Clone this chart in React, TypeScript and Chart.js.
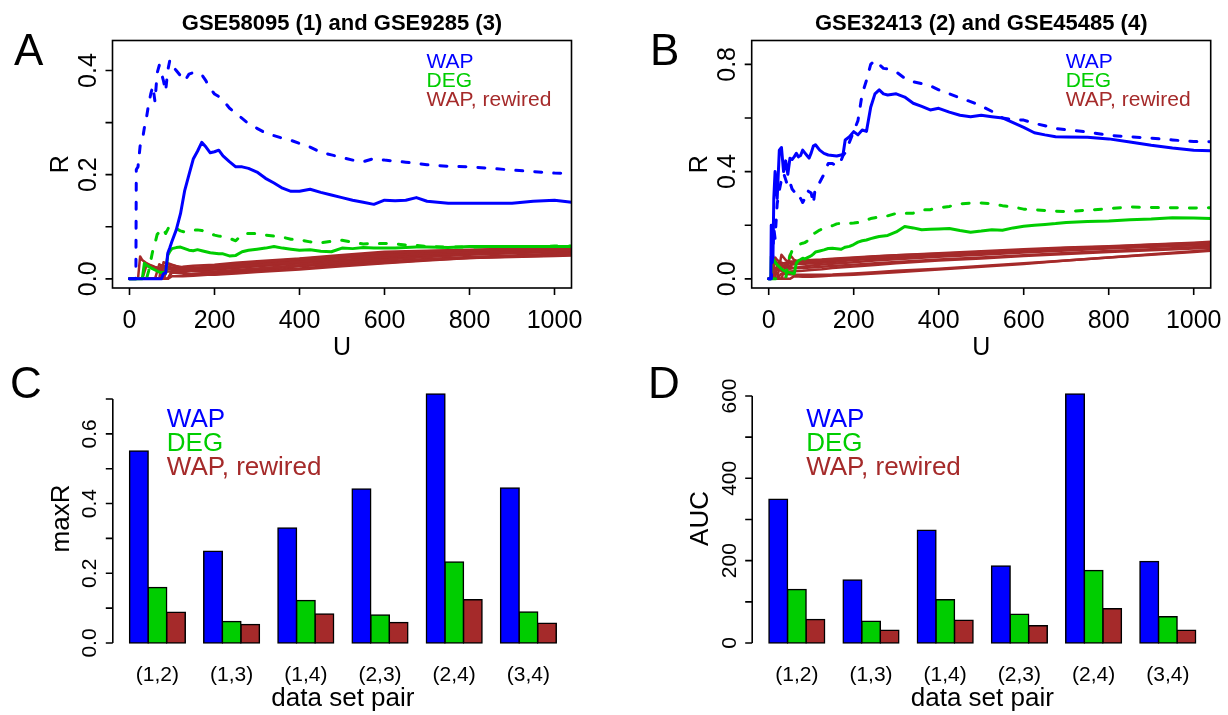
import React, { useEffect, useRef } from 'react';
import { Chart, registerables } from 'chart.js';
Chart.register(...registerables);

const FONT = '"Liberation Sans", Arial, Helvetica, sans-serif';
const BLUE = '#0000FF';
const GREEN = '#00CD00';
const BROWN = '#A52A2A';

const legendLabels = ['WAP', 'DEG', 'WAP, rewired'];
const legendColors = [BLUE, GREEN, BROWN];
const uTicks = [0, 200, 400, 600, 800, 1000];

// ---------- Panel A data ----------
const titleA = 'GSE58095 (1) and GSE9285 (3)';
const uA = [0, 10, 15, 16, 20, 25, 30, 35, 40, 45, 50, 55, 60, 65, 70, 75, 80, 85, 90, 95, 100, 110, 120, 130, 140, 150, 160, 170, 180, 190, 200, 210, 220, 235, 250, 265, 280, 300, 320, 340, 360, 380, 400, 425, 450, 475, 500, 525, 550, 575, 600, 625, 650, 675, 700, 750, 800, 850, 900, 950, 1000, 1040];
const wapDashA = [0, 0, 0, 0.21, 0.215, 0.255, 0.265, 0.29, 0.31, 0.335,
  0.355, 0.37, 0.34, 0.395, 0.41, 0.395, 0.38, 0.36, 0.4, 0.42,
  0.41, 0.4, 0.39, 0.38, 0.393, 0.396, 0.395, 0.392, 0.38, 0.365,
  0.355, 0.35, 0.343, 0.328, 0.318, 0.308, 0.298, 0.289, 0.28, 0.275,
  0.27, 0.266, 0.26, 0.253, 0.243, 0.238, 0.233, 0.228, 0.225, 0.231,
  0.228, 0.226, 0.224, 0.222, 0.219, 0.216, 0.215, 0.212, 0.209, 0.206,
  0.203, 0.202];
const wapSolidA = [0, 0, 0, 0, 0, 0, 0, 0, 0, 0,
  0, 0, 0, 0, 0, 0, 0.01, 0.011, 0.049, 0.06,
  0.072, 0.094, 0.125, 0.17, 0.2, 0.23, 0.245, 0.262, 0.253, 0.242,
  0.244, 0.247, 0.236, 0.225, 0.215, 0.215, 0.212, 0.205, 0.193, 0.184,
  0.174, 0.168, 0.168, 0.172, 0.166, 0.161, 0.156, 0.151, 0.147, 0.143,
  0.151, 0.15, 0.151, 0.156, 0.149, 0.145, 0.145, 0.145, 0.145, 0.149,
  0.151, 0.147];
const degDashA = [0, 0, 0, 0, 0, 0, 0, 0, 0, 0.015,
  0.035, 0.055, 0.068, 0.085, 0.09, 0.095, 0.097, 0.087, 0.095, 0.103,
  0.1, 0.097, 0.092, 0.09, 0.092, 0.094, 0.094, 0.093, 0.09, 0.087,
  0.084, 0.082, 0.081, 0.078, 0.073, 0.086, 0.087, 0.087, 0.084, 0.082,
  0.08, 0.076, 0.075, 0.071, 0.069, 0.072, 0.074, 0.07, 0.067, 0.068,
  0.068, 0.067, 0.065, 0.064, 0.062, 0.061, 0.061, 0.062, 0.062, 0.062,
  0.063, 0.063];
const degSolidA = [0, 0, 0, 0, 0, 0, 0, 0.03, 0.026, 0.024,
  0.021, 0.019, 0.017, 0.015, 0.013, 0.012, 0.012, 0.011, 0.045, 0.053,
  0.058, 0.06, 0.061, 0.058, 0.055, 0.054, 0.056, 0.054, 0.052, 0.05,
  0.049, 0.048, 0.048, 0.044, 0.045, 0.052, 0.055, 0.057, 0.059, 0.062,
  0.059, 0.057, 0.055, 0.056, 0.053, 0.052, 0.059, 0.058, 0.06, 0.059,
  0.059, 0.059, 0.06, 0.061, 0.061, 0.06, 0.062, 0.062, 0.062, 0.062,
  0.062, 0.062];
const uRewA = [0, 20, 25, 30, 40, 50, 60, 70, 75, 80, 90, 100, 125, 150, 200, 250, 300, 400, 500, 600, 700, 800, 900, 1000, 1040];
const rewA1 = [0, 0, 0.043, 0.036, 0.03, 0.026, 0.023, 0.021, 0.02, 0.02, 0.019, 0.019, 0.02, 0.021, 0.024, 0.028, 0.032, 0.038, 0.044, 0.05, 0.053, 0.055, 0.057, 0.059, 0.06];
const rewA2 = [0, 0, 0, 0, 0.026, 0.022, 0.019, 0.017, 0.016, 0.015, 0.014, 0.014, 0.016, 0.017, 0.02, 0.024, 0.027, 0.033, 0.04, 0.045, 0.049, 0.052, 0.055, 0.057, 0.057];
const rewA3 = [0, 0, 0, 0, 0, 0, 0, 0, 0.025, 0.023, 0.021, 0.02, 0.018, 0.018, 0.019, 0.022, 0.025, 0.03, 0.036, 0.042, 0.046, 0.049, 0.052, 0.054, 0.055];
const rewA4 = [0, 0, 0, 0, 0, 0, 0, 0, 0, 0.032, 0.028, 0.026, 0.022, 0.021, 0.022, 0.026, 0.03, 0.036, 0.042, 0.047, 0.05, 0.052, 0.054, 0.055, 0.056];
const rewA5 = [0, 0, 0, 0, 0, 0, 0, 0, 0, 0, 0.03, 0.027, 0.02, 0.015, 0.014, 0.017, 0.02, 0.026, 0.032, 0.037, 0.042, 0.046, 0.049, 0.052, 0.053];
const rewA6 = [0, 0, 0, 0, 0, 0, 0, 0, 0, 0, 0, 0.012, 0.01, 0.01, 0.012, 0.015, 0.018, 0.024, 0.029, 0.034, 0.038, 0.042, 0.045, 0.048, 0.049];
const rewA7 = [0, 0, 0, 0, 0, 0, 0, 0, 0, 0, 0.02, 0.018, 0.012, 0.008, 0.008, 0.01, 0.013, 0.018, 0.024, 0.03, 0.035, 0.04, 0.043, 0.045, 0.046];
const rewA8 = [0, 0, 0, 0, 0, 0, 0, 0, 0, 0, 0, 0.005, 0.005, 0.006, 0.009, 0.012, 0.016, 0.02, 0.026, 0.031, 0.036, 0.04, 0.042, 0.044, 0.045];
const rewA9 = [0, 0, 0, 0, 0, 0, 0, 0.028, 0.026, 0.025, 0.023, 0.022, 0.023, 0.025, 0.027, 0.031, 0.034, 0.039, 0.046, 0.052, 0.054, 0.056, 0.058, 0.058, 0.059];
const rewA10 = [0, 0, 0, 0, 0, 0, 0, 0, 0, 0, 0, 0.016, 0.015, 0.016, 0.018, 0.021, 0.024, 0.03, 0.035, 0.04, 0.045, 0.048, 0.05, 0.052, 0.052];
const yTicksA = [0, 0.1, 0.2, 0.3, 0.4];
const yLabelsA = [0, 0.2, 0.4];

// ---------- Panel B data ----------
const titleB = 'GSE32413 (2) and GSE45485 (4)';
const uB = [0, 5, 6, 10, 12, 15, 20, 25, 30, 35, 40, 45, 50, 55, 60, 65, 70, 75, 80, 85, 90, 95, 100, 105, 110, 120, 130, 140, 150, 160, 170, 175, 180, 190, 200, 210, 220, 230, 240, 250, 260, 270, 280, 300, 320, 340, 360, 380, 400, 425, 450, 475, 500, 525, 550, 575, 600, 625, 650, 675, 700, 750, 800, 850, 900, 950, 1000, 1040];
const wapSolidB = [0, 0, 0.2, 0.08, 0.3, 0.4, 0.3, 0.48, 0.49, 0.4,
  0.44, 0.39, 0.45, 0.445, 0.455, 0.468, 0.455, 0.46, 0.48, 0.47,
  0.46, 0.45, 0.47, 0.495, 0.5, 0.48, 0.468, 0.462, 0.46, 0.458,
  0.462, 0.465, 0.518, 0.53, 0.549, 0.537, 0.555, 0.55, 0.64, 0.69,
  0.705, 0.69, 0.686, 0.69, 0.678, 0.655, 0.643, 0.63, 0.636, 0.622,
  0.61, 0.605, 0.61, 0.605, 0.6, 0.583, 0.565, 0.545, 0.537, 0.53,
  0.529, 0.528, 0.522, 0.51, 0.498, 0.488, 0.48, 0.478];
const wapDashB = [0, 0, 0, 0.1, 0.19, 0.15, 0.28, 0.33, 0.37, 0.394,
  0.37, 0.345, 0.36, 0.335, 0.325, 0.33, 0.31, 0.3, 0.285, 0.3,
  0.33, 0.325, 0.32, 0.28, 0.345, 0.36, 0.39, 0.43, 0.43, 0.42,
  0.44, 0.46, 0.47, 0.51, 0.55, 0.59, 0.69, 0.74, 0.8, 0.815,
  0.8, 0.785, 0.783, 0.772, 0.748, 0.735, 0.728, 0.72, 0.705, 0.69,
  0.675, 0.661, 0.645, 0.625, 0.6, 0.594, 0.592, 0.58, 0.571, 0.561,
  0.556, 0.548, 0.535, 0.53, 0.525, 0.518, 0.512, 0.511];
const degDashB = [0, 0, 0, 0, 0, 0, 0, 0, 0, 0,
  0, 0.06, 0.085, 0.105, 0.114, 0.12, 0.125, 0.13, 0.133, 0.135,
  0.14, 0.16, 0.165, 0.168, 0.172, 0.182, 0.188, 0.195, 0.198, 0.205,
  0.207, 0.207, 0.207, 0.207, 0.208, 0.21, 0.213, 0.218, 0.225, 0.228,
  0.23, 0.232, 0.235, 0.244, 0.244, 0.245, 0.257, 0.258, 0.265, 0.27,
  0.28, 0.282, 0.283, 0.28, 0.273, 0.268, 0.26, 0.258, 0.255, 0.252,
  0.251, 0.256, 0.262, 0.268, 0.266, 0.265, 0.264, 0.265];
const degSolidB = [0, 0, 0.083, 0.075, 0.07, 0.062, 0.052, 0.045, 0.037, 0.031,
  0.028, 0.025, 0.023, 0.021, 0.019, 0.058, 0.068, 0.072, 0.077, 0.074,
  0.078, 0.082, 0.086, 0.092, 0.1, 0.104, 0.108, 0.113, 0.114, 0.112,
  0.11, 0.114, 0.118, 0.121, 0.128, 0.137, 0.142, 0.145, 0.15, 0.154,
  0.158, 0.16, 0.162, 0.175, 0.195, 0.19, 0.183, 0.185, 0.186, 0.188,
  0.18, 0.174, 0.178, 0.183, 0.181, 0.19, 0.196, 0.2, 0.203, 0.206,
  0.21, 0.214, 0.216, 0.22, 0.223, 0.228, 0.227, 0.225];
const uRewB = [0, 5, 10, 15, 20, 30, 40, 50, 60, 80, 100, 125, 150, 200, 250, 300, 400, 500, 600, 700, 800, 900, 1000, 1040];
const rewB1 = [0, 0, 0.07, 0.06, 0.055, 0.05, 0.048, 0.05, 0.055, 0.06, 0.065, 0.068, 0.07, 0.075, 0.08, 0.085, 0.092, 0.1, 0.108, 0.115, 0.12, 0.127, 0.133, 0.135];
const rewB2 = [0, 0, 0, 0.08, 0.07, 0.06, 0.055, 0.058, 0.06, 0.062, 0.066, 0.07, 0.073, 0.078, 0.083, 0.088, 0.095, 0.103, 0.11, 0.117, 0.122, 0.128, 0.135, 0.138];
const rewB3 = [0, 0, 0, 0, 0.05, 0.045, 0.04, 0.038, 0.04, 0.045, 0.05, 0.053, 0.056, 0.062, 0.068, 0.073, 0.082, 0.09, 0.098, 0.106, 0.113, 0.12, 0.126, 0.128];
const rewB4 = [0, 0, 0, 0, 0, 0.09, 0.07, 0.06, 0.055, 0.055, 0.058, 0.06, 0.063, 0.07, 0.075, 0.08, 0.088, 0.095, 0.103, 0.11, 0.116, 0.122, 0.128, 0.13];
const rewB5 = [0, 0, 0, 0, 0, 0, 0, 0.09, 0.07, 0.06, 0.062, 0.065, 0.068, 0.074, 0.079, 0.084, 0.09, 0.097, 0.104, 0.11, 0.116, 0.12, 0.125, 0.127];
const rewB6 = [0, 0, 0, 0.04, 0.035, 0.03, 0.028, 0.027, 0.028, 0.03, 0.033, 0.036, 0.04, 0.046, 0.052, 0.058, 0.068, 0.076, 0.085, 0.093, 0.1, 0.107, 0.113, 0.115];
const rewB7 = [0, 0, 0, 0, 0, 0.02, 0.018, 0.017, 0.016, 0.015, 0.015, 0.015, 0.016, 0.02, 0.025, 0.03, 0.038, 0.048, 0.058, 0.068, 0.08, 0.09, 0.1, 0.105];
const rewB8 = [0, 0, 0, 0, 0, 0, 0, 0, 0.01, 0.008, 0.008, 0.01, 0.012, 0.015, 0.02, 0.025, 0.035, 0.045, 0.055, 0.068, 0.08, 0.092, 0.103, 0.108];
const rewB9 = [0, 0, 0.06, 0.065, 0.06, 0.055, 0.06, 0.065, 0.065, 0.068, 0.07, 0.072, 0.075, 0.08, 0.084, 0.088, 0.094, 0.1, 0.106, 0.111, 0.117, 0.123, 0.13, 0.132];
const rewB10 = [0, 0, 0, 0, 0, 0, 0.05, 0.045, 0.04, 0.04, 0.042, 0.045, 0.048, 0.053, 0.058, 0.063, 0.072, 0.08, 0.088, 0.096, 0.104, 0.11, 0.118, 0.12];
const yTicksB = [0, 0.2, 0.4, 0.6, 0.8];
const yLabelsB = [0, 0.4, 0.8];

// ---------- Panels C and D data ----------
const pairs = ['(1,2)', '(1,3)', '(1,4)', '(2,3)', '(2,4)', '(3,4)'];
const maxRWap = [0.551, 0.263, 0.33, 0.442, 0.714, 0.445];
const maxRDeg = [0.159, 0.062, 0.122, 0.08, 0.232, 0.089];
const maxRRew = [0.088, 0.053, 0.083, 0.059, 0.124, 0.057];
const yTicksC = [0, 0.1, 0.2, 0.3, 0.4, 0.5, 0.6, 0.7];
const yLabelsC = [0, 0.2, 0.4, 0.6];
const aucWap = [349, 153, 274, 187, 605, 198];
const aucDeg = [130, 53, 105, 70, 176, 64];
const aucRew = [57, 31, 55, 42, 83, 31];
const yTicksD = [0, 100, 200, 300, 400, 500, 600];
const yLabelsD = [0, 200, 400, 600];

function rotText(ctx: CanvasRenderingContext2D, text: string, x: number, y: number) {
  ctx.save();
  ctx.translate(x, y);
  ctx.rotate(-Math.PI / 2);
  ctx.textAlign = 'center';
  ctx.textBaseline = 'alphabetic';
  ctx.fillText(text, 0, 0);
  ctx.restore();
}

function drawLegend(ctx: CanvasRenderingContext2D, x: number, ys: number[], size: number) {
  ctx.font = `${size}px ${FONT}`;
  ctx.textAlign = 'left';
  ctx.textBaseline = 'alphabetic';
  legendLabels.forEach((t, i) => {
    ctx.fillStyle = legendColors[i];
    ctx.fillText(t, x, ys[i]);
  });
}

function makeLineConfig(s: any) {
  const pts = (u: number[], v: number[]) => u.map((x, i) => ({ x, y: v[i] }));
  const datasets: any[] = [
    { data: pts(s.u, s.wapSolid), borderColor: BLUE, borderWidth: 3 },
    { data: pts(s.u, s.wapDash), borderColor: BLUE, borderWidth: 3, borderDash: [7, 12] },
    { data: pts(s.u, s.degSolid), borderColor: GREEN, borderWidth: 3 },
    { data: pts(s.u, s.degDash), borderColor: GREEN, borderWidth: 3, borderDash: [7, 12] },
    ...s.rew.map((r: number[]) => ({ data: pts(s.uRew, r), borderColor: BROWN, borderWidth: 2.5 })),
  ];
  const plugin = {
    id: 'rStyleLine',
    afterDraw(chart: any) {
      const { ctx, chartArea: a } = chart;
      const xs = chart.scales.x;
      const ys = chart.scales.y;
      ctx.save();
      ctx.strokeStyle = '#000';
      ctx.lineWidth = 1.6;
      ctx.strokeRect(a.left, a.top, a.right - a.left, a.bottom - a.top);
      ctx.beginPath();
      uTicks.forEach((t) => {
        const x = xs.getPixelForValue(t);
        ctx.moveTo(x, a.bottom);
        ctx.lineTo(x, a.bottom + 7);
      });
      s.yTicks.forEach((t: number) => {
        const y = ys.getPixelForValue(t);
        ctx.moveTo(a.left, y);
        ctx.lineTo(a.left - 7, y);
      });
      ctx.stroke();
      ctx.fillStyle = '#000';
      ctx.font = `25px ${FONT}`;
      ctx.textAlign = 'center';
      ctx.textBaseline = 'alphabetic';
      uTicks.forEach((t) => ctx.fillText(String(t), xs.getPixelForValue(t), a.bottom + 40));
      s.yLabels.forEach((t: number) => rotText(ctx, t.toFixed(1), a.left - 17, ys.getPixelForValue(t)));
      const cx = (a.left + a.right) / 2;
      const cy = (a.top + a.bottom) / 2;
      ctx.fillText('U', cx, a.bottom + 67);
      rotText(ctx, 'R', a.left - 45, cy);
      ctx.font = `bold 22px ${FONT}`;
      ctx.textAlign = 'center';
      ctx.fillText(s.title, cx, 30);
      ctx.font = `44px ${FONT}`;
      ctx.textAlign = 'left';
      ctx.fillText(s.letter, s.letterX, 65);
      drawLegend(ctx, a.right - 145, [68, 87, 106], 21);
      ctx.restore();
    },
  };
  return {
    type: 'line',
    data: { datasets },
    options: {
      responsive: false,
      animation: false,
      devicePixelRatio: 1,
      events: [],
      layout: { padding: { left: s.padLeft, right: s.padRight, top: 40.5, bottom: 72 } },
      plugins: { legend: { display: false }, tooltip: { enabled: false }, title: { display: false } },
      elements: {
        point: { radius: 0 },
        line: { tension: 0, borderCapStyle: 'round', borderJoinStyle: 'round', fill: false },
      },
      scales: {
        x: { type: 'linear', min: -40, max: 1040, display: false },
        y: { type: 'linear', min: s.yMin, max: s.yMax, display: false },
      },
    },
    plugins: [plugin],
  };
}

function makeBarConfig(s: any) {
  const mk = (data: number[], color: string) => ({
    data,
    backgroundColor: color,
    borderColor: '#000',
    borderWidth: 1.5,
    borderSkipped: false,
    inflateAmount: 0.75,
    barPercentage: 1,
    categoryPercentage: 0.75,
  });
  const plugin = {
    id: 'rStyleBar',
    afterDraw(chart: any) {
      const { ctx, chartArea: a } = chart;
      const xs = chart.scales.x;
      const ys = chart.scales.y;
      const axisX = a.left - 7.5;
      ctx.save();
      ctx.strokeStyle = '#000';
      ctx.lineWidth = 1.6;
      ctx.beginPath();
      ctx.moveTo(axisX, ys.getPixelForValue(s.yTicks[0]));
      ctx.lineTo(axisX, ys.getPixelForValue(s.yTicks[s.yTicks.length - 1]));
      s.yTicks.forEach((t: number) => {
        const y = ys.getPixelForValue(t);
        ctx.moveTo(axisX, y);
        ctx.lineTo(axisX - 7, y);
      });
      ctx.stroke();
      ctx.fillStyle = '#000';
      ctx.font = `21px ${FONT}`;
      s.yLabels.forEach((t: number) => rotText(ctx, s.fmt(t), axisX - 16.7, ys.getPixelForValue(t)));
      ctx.textAlign = 'center';
      ctx.textBaseline = 'alphabetic';
      pairs.forEach((p, i) => ctx.fillText(p, xs.getPixelForValue(i), a.bottom + 27.6));
      ctx.font = `26px ${FONT}`;
      ctx.fillText('data set pair', (a.left + a.right) / 2, a.bottom + 53);
      rotText(ctx, s.yTitle, axisX - 44.2, (a.top + a.bottom) / 2);
      ctx.font = `44px ${FONT}`;
      ctx.textAlign = 'left';
      ctx.fillText(s.letter, s.letterX, 38);
      drawLegend(ctx, a.left + 46.5, [a.top + 42.7, a.top + 66.7, a.top + 91], 26);
      ctx.restore();
    },
  };
  return {
    type: 'bar',
    data: {
      labels: pairs,
      datasets: [mk(s.wap, BLUE), mk(s.deg, GREEN), mk(s.rew, BROWN)],
    },
    options: {
      responsive: false,
      animation: false,
      devicePixelRatio: 1,
      events: [],
      layout: { padding: { left: s.padLeft, right: s.padRight, top: 24, bottom: 62 } },
      plugins: { legend: { display: false }, tooltip: { enabled: false }, title: { display: false } },
      scales: {
        x: { display: false },
        y: { type: 'linear', min: s.yMin, max: s.yMax, display: false },
      },
    },
    plugins: [plugin],
  };
}

function ChartCanvas({ make, left, top, width, height }: any) {
  const ref = useRef<HTMLCanvasElement>(null);
  useEffect(() => {
    const chart = new Chart(ref.current as HTMLCanvasElement, make());
    return () => chart.destroy();
  }, []);
  return (
    <canvas
      ref={ref}
      width={width}
      height={height}
      style={{ position: 'absolute', left, top, width, height }}
    />
  );
}

export default function App() {
  useEffect(() => {
    document.body.style.margin = '0';
    document.body.style.background = '#fff';
  }, []);
  const specA = {
    title: titleA, letter: 'A', letterX: 14, u: uA, wapSolid: wapSolidA, wapDash: wapDashA,
    degSolid: degSolidA, degDash: degDashA, uRew: uRewA,
    rew: [rewA1, rewA2, rewA3, rewA4, rewA5, rewA6, rewA7, rewA8, rewA9, rewA10],
    yMin: -0.0176, yMax: 0.4576, yTicks: yTicksA, yLabels: yLabelsA, padLeft: 112.5, padRight: 42.5,
  };
  const specB = {
    title: titleB, letter: 'B', letterX: 36, u: uB, wapSolid: wapSolidB, wapDash: wapDashB,
    degSolid: degSolidB, degDash: degDashB, uRew: uRewB,
    rew: [rewB1, rewB2, rewB3, rewB4, rewB5, rewB6, rewB7, rewB8, rewB9, rewB10],
    yMin: -0.0342, yMax: 0.889, yTicks: yTicksB, yLabels: yLabelsB, padLeft: 137.7, padRight: 17.3,
  };
  const specC = {
    letter: 'C', letterX: 10, wap: maxRWap, deg: maxRDeg, rew: maxRRew, yMin: -0.0287, yMax: 0.743,
    yTicks: yTicksC, yLabels: yLabelsC, fmt: (v: number) => v.toFixed(1), yTitle: 'maxR',
    padLeft: 120.3, padRight: 48.5,
  };
  const specD = {
    letter: 'D', letterX: 34, wap: aucWap, deg: aucDeg, rew: aucRew, yMin: -24.3, yMax: 629.1,
    yTicks: yTicksD, yLabels: yLabelsD, fmt: (v: number) => String(v), yTitle: 'AUC',
    padLeft: 145.7, padRight: 23.1,
  };
  return (
    <div style={{ position: 'absolute', left: 0, top: 0, width: 1228, height: 715, background: '#fff' }}>
      <ChartCanvas make={() => makeLineConfig(specA)} left={0} top={0} width={614} height={360} />
      <ChartCanvas make={() => makeLineConfig(specB)} left={614} top={0} width={614} height={360} />
      <ChartCanvas make={() => makeBarConfig(specC)} left={0} top={360} width={614} height={355} />
      <ChartCanvas make={() => makeBarConfig(specD)} left={614} top={360} width={614} height={355} />
    </div>
  );
}
